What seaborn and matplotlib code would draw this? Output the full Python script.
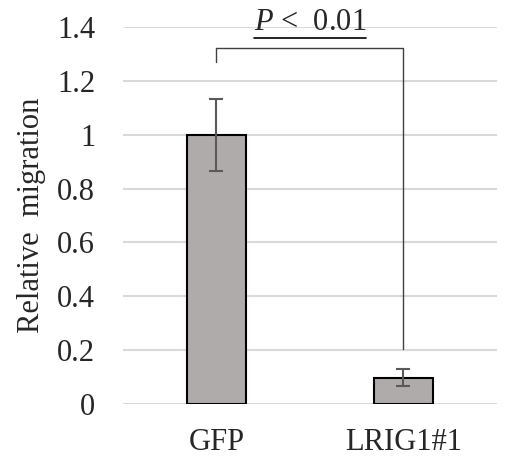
import numpy as np
import pandas as pd
import seaborn as sns
import matplotlib.pyplot as plt

# 数据
groups = ["GFP", "LRIG1#1"]
migration = [1.0, 0.097]
sem = [0.133, 0.032]
y_ticks = [0, 0.2, 0.4, 0.6, 0.8, 1, 1.2, 1.4]
y_tick_labels = ["0", "0.2", "0.4", "0.6", "0.8", "1", "1.2", "1.4"]
p_text = r"$\mathit{P}$ <  0.01"
bracket_left_y = 1.27
bracket_top_y = 1.322
bracket_right_y = 0.204

sns.set_style("white")
plt.rcParams['font.family'] = ['Liberation Serif', 'DejaVu Serif']
plt.rcParams['mathtext.fontset'] = 'custom'
plt.rcParams['mathtext.rm'] = 'Liberation Serif'
plt.rcParams['mathtext.it'] = 'Liberation Serif:italic'

df = pd.DataFrame({"group": groups, "migration": migration})

fig = plt.figure(figsize=(5.08, 4.57), dpi=100)
ax = fig.add_axes([0.242, 0.116, 0.736, 0.825])

sns.barplot(data=df, x="group", y="migration", color="#afabab", edgecolor="black",
            linewidth=1.5, width=0.316, errorbar=None, saturation=1, ax=ax, zorder=3)
ax.errorbar(x=np.arange(len(groups)), y=migration, yerr=sem, fmt="none",
            ecolor="#595959", elinewidth=1.5, capsize=5, capthick=1.5, zorder=4)

ax.set_ylim(0, 1.4)
ax.set_xlim(-0.5, 1.5)
ax.set_yticks(y_ticks)
ax.set_yticklabels(y_tick_labels)
ax.grid(axis="y", color="#d9d9d9", linewidth=1.5, zorder=0)
ax.set_axisbelow(True)
for s in ax.spines.values():
    s.set_visible(False)
ax.tick_params(axis="y", labelsize=22, pad=20, length=0)
ax.tick_params(axis="x", labelsize=22, pad=17, length=0)
ax.set_xlabel("")
ax.set_ylabel("Relative  migration", fontsize=22, labelpad=8)

# 显著性括号
ax.plot([0, 0, 1, 1], [bracket_left_y, bracket_top_y, bracket_top_y, bracket_right_y],
        color="#404040", linewidth=1.0, zorder=5)

t = ax.text(0.5, 1.39, p_text, ha="center", va="baseline", fontsize=22)
fig.canvas.draw()
bb = t.get_window_extent(renderer=fig.canvas.get_renderer())
inv = ax.transData.inverted()
(x0, y0), (x1, y1) = inv.transform([(bb.x0, bb.y0), (bb.x1, bb.y0)])
ax.plot([x0, x1], [y0 - 0.005, y0 - 0.005], color="black", linewidth=1.2, clip_on=False)

fig.savefig("out.png", dpi=100)
